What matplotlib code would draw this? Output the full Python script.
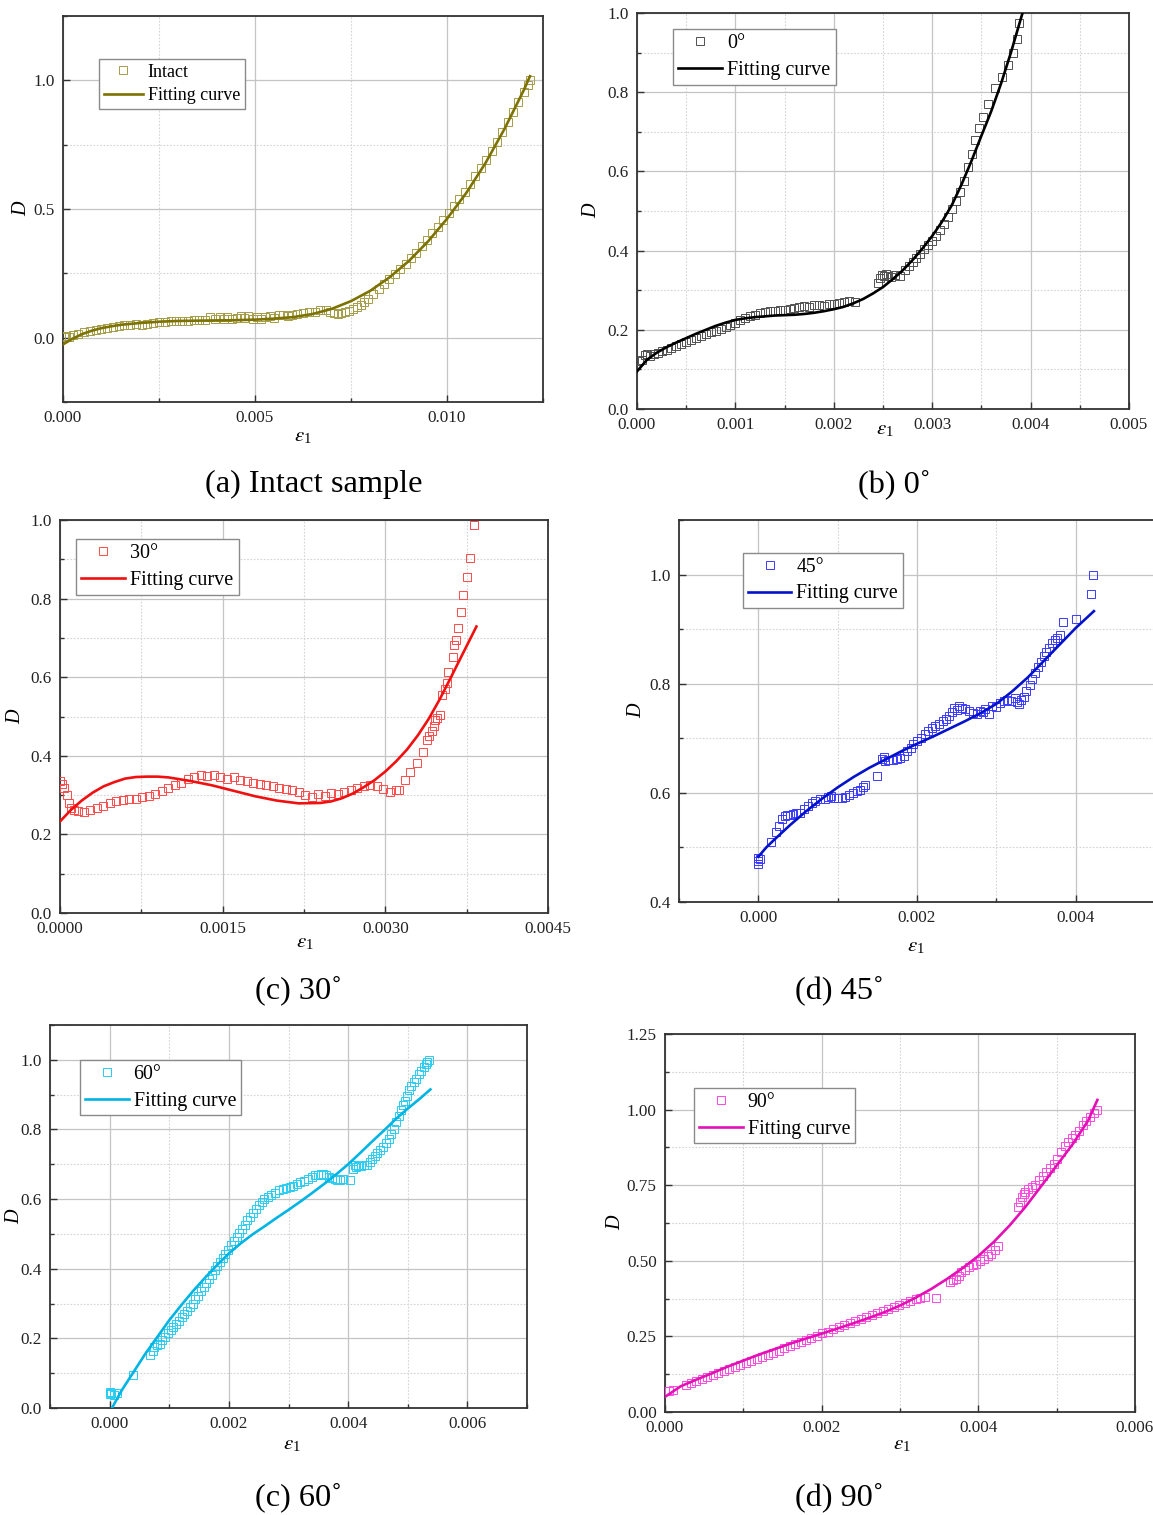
import matplotlib.pyplot as plt
import numpy as np
from matplotlib.ticker import FormatStrFormatter, MultipleLocator

# strain values are listed in units of 1e-3, damage D is dimensionless

INTACT_STRAIN = [0.02, 0.08, 0.15, 0.25, 0.40, 0.55, 0.70, 0.85, 1.00, 1.15, 1.30, 1.45,
                 1.60, 1.75, 1.90, 2.05, 2.20, 2.35, 2.50, 2.65, 2.80, 2.95, 3.10, 3.25,
                 3.40, 3.55, 3.70, 3.82, 3.95, 4.08, 4.18, 4.28, 4.40, 4.52, 4.63, 4.72,
                 4.83, 4.95, 5.05, 5.15, 5.27, 5.38, 5.50, 5.62, 5.73, 5.85, 5.97, 6.10,
                 6.25, 6.40, 6.55, 6.70, 6.85, 6.95, 7.05, 7.15, 7.25, 7.35, 7.45, 7.55,
                 7.65, 7.75, 7.85, 7.95, 8.08, 8.22, 8.36, 8.50, 8.64, 8.78, 8.92, 9.06,
                 9.20, 9.34, 9.48, 9.62, 9.76, 9.90, 10.04, 10.18, 10.32, 10.46, 10.60,
                 10.74, 10.88, 11.02, 11.16, 11.30, 11.44, 11.58, 11.72, 11.86, 12.00,
                 12.10, 12.17]
INTACT_DAMAGE = [0.004, 0.008, 0.002, 0.010, 0.016, 0.022, 0.026, 0.031, 0.035, 0.038,
                 0.041, 0.046, 0.048, 0.050, 0.053, 0.050, 0.055, 0.058, 0.060, 0.059,
                 0.063, 0.064, 0.065, 0.066, 0.068, 0.067, 0.069, 0.082, 0.071, 0.079,
                 0.074, 0.081, 0.072, 0.078, 0.084, 0.076, 0.086, 0.074, 0.080, 0.071,
                 0.082, 0.085, 0.076, 0.088, 0.090, 0.084, 0.089, 0.091, 0.094, 0.098,
                 0.101, 0.106, 0.108, 0.098, 0.094, 0.093, 0.096, 0.099, 0.103, 0.110,
                 0.118, 0.128, 0.139, 0.150, 0.170, 0.190, 0.210, 0.228, 0.248, 0.268,
                 0.288, 0.310, 0.330, 0.355, 0.380, 0.405, 0.430, 0.458, 0.485, 0.512,
                 0.540, 0.568, 0.598, 0.630, 0.660, 0.692, 0.726, 0.762, 0.800, 0.838,
                 0.876, 0.916, 0.955, 0.980, 1.000]
INTACT_FIT_STRAIN = [0.0, 0.25, 0.5, 0.75, 1.0, 1.25, 1.5, 2.0, 2.5, 3.0, 3.5, 4.0, 4.5,
                     5.0, 5.5, 6.0, 6.5, 7.0, 7.5, 8.0, 8.5, 9.0, 9.5, 10.0, 10.5, 11.0,
                     11.5, 12.0, 12.16]
INTACT_FIT_DAMAGE = [-0.026, -0.004, 0.014, 0.027, 0.037, 0.044, 0.050, 0.057, 0.062,
                     0.065, 0.066, 0.067, 0.068, 0.070, 0.074, 0.080, 0.092, 0.112, 0.142,
                     0.182, 0.234, 0.297, 0.373, 0.462, 0.562, 0.678, 0.812, 0.962, 1.016]

DEG0_STRAIN = [0.02, 0.05, 0.08, 0.10, 0.13, 0.17, 0.21, 0.25, 0.30, 0.35, 0.40, 0.45,
               0.50, 0.55, 0.60, 0.65, 0.70, 0.75, 0.80, 0.85, 0.90, 0.95, 1.00, 1.05,
               1.10, 1.15, 1.20, 1.25, 1.30, 1.35, 1.40, 1.45, 1.50, 1.55, 1.60, 1.65,
               1.70, 1.75, 1.80, 1.85, 1.90, 1.95, 2.00, 2.05, 2.10, 2.15, 2.22, 2.45,
               2.47, 2.49, 2.51, 2.53, 2.55, 2.58, 2.62, 2.67, 2.72, 2.76, 2.80, 2.84,
               2.88, 2.92, 2.96, 3.00, 3.04, 3.08, 3.12, 3.16, 3.20, 3.24, 3.28, 3.32,
               3.36, 3.40, 3.44, 3.48, 3.52, 3.57, 3.64, 3.71, 3.77, 3.82, 3.86, 3.88]
DEG0_DAMAGE = [0.120, 0.125, 0.136, 0.138, 0.135, 0.138, 0.142, 0.146, 0.150, 0.155,
               0.160, 0.165, 0.170, 0.174, 0.180, 0.185, 0.190, 0.194, 0.198, 0.203,
               0.208, 0.212, 0.218, 0.224, 0.230, 0.235, 0.238, 0.242, 0.245, 0.247,
               0.248, 0.250, 0.251, 0.253, 0.255, 0.258, 0.260, 0.258, 0.262, 0.263,
               0.261, 0.265, 0.266, 0.268, 0.270, 0.272, 0.270, 0.318, 0.330, 0.338,
               0.336, 0.340, 0.337, 0.333, 0.338, 0.336, 0.352, 0.362, 0.372, 0.382,
               0.392, 0.403, 0.415, 0.425, 0.438, 0.452, 0.467, 0.485, 0.505, 0.525,
               0.548, 0.575, 0.610, 0.645, 0.680, 0.710, 0.737, 0.770, 0.810, 0.838,
               0.868, 0.900, 0.935, 0.975]
DEG0_FIT_STRAIN = [0.0, 0.1, 0.2, 0.3, 0.4, 0.5, 0.6, 0.7, 0.8, 0.9, 1.0, 1.1, 1.2, 1.3,
                   1.4, 1.5, 1.6, 1.7, 1.8, 1.9, 2.0, 2.1, 2.2, 2.3, 2.4, 2.5, 2.6, 2.7,
                   2.8, 2.9, 3.0, 3.1, 3.2, 3.3, 3.4, 3.5, 3.6, 3.7, 3.8, 3.9, 3.93]
DEG0_FIT_DAMAGE = [0.095, 0.124, 0.142, 0.156, 0.168, 0.179, 0.190, 0.200, 0.210, 0.218,
                   0.225, 0.229, 0.232, 0.234, 0.236, 0.237, 0.238, 0.240, 0.243, 0.247,
                   0.252, 0.258, 0.267, 0.278, 0.292, 0.308, 0.328, 0.350, 0.376, 0.405,
                   0.437, 0.473, 0.515, 0.568, 0.627, 0.690, 0.752, 0.822, 0.900, 0.985,
                   1.010]

DEG30_STRAIN = [0.00, 0.02, 0.04, 0.06, 0.08, 0.10, 0.13, 0.17, 0.22, 0.28, 0.34, 0.40,
                0.46, 0.52, 0.58, 0.64, 0.70, 0.76, 0.82, 0.88, 0.94, 1.00, 1.06, 1.12,
                1.18, 1.24, 1.30, 1.36, 1.42, 1.48, 1.54, 1.60, 1.66, 1.72, 1.78, 1.84,
                1.90, 1.96, 2.02, 2.08, 2.14, 2.20, 2.26, 2.32, 2.38, 2.44, 2.50, 2.56,
                2.62, 2.68, 2.74, 2.80, 2.86, 2.92, 2.98, 3.04, 3.10, 3.13, 3.18, 3.23,
                3.29, 3.35, 3.38, 3.40, 3.43, 3.45, 3.46, 3.48, 3.50, 3.52, 3.55, 3.57,
                3.58, 3.62, 3.63, 3.65, 3.67, 3.70, 3.72, 3.75, 3.78, 3.82]
DEG30_DAMAGE = [0.336, 0.328, 0.318, 0.300, 0.280, 0.268, 0.262, 0.260, 0.258, 0.262,
                0.266, 0.272, 0.280, 0.284, 0.288, 0.290, 0.290, 0.294, 0.298, 0.302,
                0.310, 0.318, 0.326, 0.332, 0.340, 0.346, 0.352, 0.348, 0.350, 0.345,
                0.342, 0.345, 0.338, 0.336, 0.332, 0.328, 0.326, 0.322, 0.318, 0.316,
                0.312, 0.308, 0.300, 0.296, 0.302, 0.298, 0.306, 0.302, 0.308, 0.312,
                0.318, 0.322, 0.326, 0.324, 0.316, 0.309, 0.312, 0.313, 0.339, 0.360,
                0.381, 0.410, 0.440, 0.450, 0.462, 0.475, 0.490, 0.496, 0.505, 0.555,
                0.570, 0.585, 0.614, 0.652, 0.682, 0.695, 0.725, 0.765, 0.808, 0.856,
                0.904, 0.987]
DEG30_FIT_STRAIN = [0.0, 0.1, 0.2, 0.3, 0.4, 0.5, 0.6, 0.7, 0.8, 0.9, 1.0, 1.2, 1.4, 1.6,
                    1.8, 2.0, 2.2, 2.4, 2.5, 2.6, 2.7, 2.8, 2.9, 3.0, 3.1, 3.2, 3.3, 3.4,
                    3.5, 3.6, 3.7, 3.8, 3.84]
DEG30_FIT_DAMAGE = [0.233, 0.262, 0.286, 0.306, 0.322, 0.333, 0.342, 0.346, 0.347, 0.347,
                    0.345, 0.336, 0.325, 0.311, 0.297, 0.286, 0.279, 0.280, 0.284, 0.292,
                    0.304, 0.320, 0.338, 0.360, 0.386, 0.416, 0.452, 0.494, 0.543, 0.597,
                    0.652, 0.707, 0.729]

DEG45_STRAIN = [0.00, 0.00, 0.00, 0.02, 0.16, 0.22, 0.26, 0.30, 0.33, 0.36, 0.40, 0.44,
                0.48, 0.53, 0.58, 0.63, 0.68, 0.72, 0.78, 0.84, 0.88, 0.91, 0.96, 1.00,
                1.05, 1.09, 1.14, 1.19, 1.24, 1.28, 1.32, 1.35, 1.49, 1.56, 1.58, 1.60,
                1.64, 1.70, 1.75, 1.79, 1.84, 1.88, 1.92, 1.95, 2.00, 2.05, 2.10, 2.14,
                2.19, 2.23, 2.28, 2.33, 2.37, 2.40, 2.44, 2.47, 2.50, 2.53, 2.57, 2.60,
                2.65, 2.70, 2.75, 2.79, 2.83, 2.86, 2.91, 2.95, 3.00, 3.05, 3.10, 3.14,
                3.18, 3.23, 3.26, 3.28, 3.31, 3.35, 3.38, 3.42, 3.45, 3.49, 3.52, 3.56,
                3.60, 3.63, 3.67, 3.70, 3.74, 3.77, 3.80, 3.84, 4.00, 4.19, 4.22]
DEG45_DAMAGE = [0.470, 0.475, 0.480, 0.478, 0.510, 0.528, 0.540, 0.552, 0.557, 0.560,
                0.560, 0.561, 0.563, 0.564, 0.570, 0.576, 0.581, 0.585, 0.588, 0.588,
                0.592, 0.594, 0.590, 0.591, 0.590, 0.592, 0.596, 0.600, 0.604, 0.606,
                0.610, 0.615, 0.630, 0.662, 0.666, 0.658, 0.660, 0.661, 0.662, 0.664,
                0.668, 0.676, 0.682, 0.689, 0.695, 0.701, 0.707, 0.713, 0.718, 0.722,
                0.726, 0.731, 0.736, 0.740, 0.748, 0.756, 0.752, 0.759, 0.755, 0.753,
                0.750, 0.747, 0.745, 0.750, 0.748, 0.753, 0.745, 0.759, 0.757, 0.765,
                0.768, 0.771, 0.768, 0.773, 0.766, 0.762, 0.770, 0.776, 0.786, 0.798,
                0.808, 0.819, 0.830, 0.840, 0.850, 0.859, 0.866, 0.874, 0.880, 0.883,
                0.890, 0.914, 0.918, 0.965, 1.000]
DEG45_FIT_STRAIN = [0.0, 0.1, 0.2, 0.4, 0.6, 0.8, 1.0, 1.2, 1.4, 1.6, 1.8, 2.0, 2.2, 2.4,
                    2.6, 2.8, 3.0, 3.2, 3.4, 3.6, 3.8, 4.0, 4.23]
DEG45_FIT_DAMAGE = [0.483, 0.500, 0.514, 0.541, 0.566, 0.589, 0.610, 0.629, 0.646, 0.661,
                    0.676, 0.690, 0.703, 0.717, 0.731, 0.746, 0.763, 0.786, 0.812, 0.842,
                    0.872, 0.902, 0.933]

DEG60_STRAIN = [0.00, 0.00, 0.02, 0.07, 0.12, 0.39, 0.68, 0.72, 0.75, 0.80, 0.84, 0.88,
                0.93, 0.98, 1.03, 1.07, 1.12, 1.16, 1.21, 1.25, 1.30, 1.35, 1.39, 1.44,
                1.49, 1.53, 1.58, 1.62, 1.67, 1.71, 1.76, 1.80, 1.85, 1.90, 1.94, 1.99,
                2.04, 2.08, 2.13, 2.17, 2.22, 2.27, 2.31, 2.36, 2.41, 2.45, 2.50, 2.55,
                2.59, 2.65, 2.71, 2.78, 2.84, 2.90, 2.96, 3.02, 3.08, 3.14, 3.20, 3.26,
                3.33, 3.39, 3.45, 3.50, 3.54, 3.58, 3.63, 3.68, 3.73, 3.78, 3.82, 3.87,
                3.91, 4.03, 4.08, 4.11, 4.13, 4.17, 4.22, 4.27, 4.31, 4.36, 4.40, 4.45,
                4.49, 4.54, 4.58, 4.63, 4.68, 4.72, 4.77, 4.81, 4.86, 4.89, 4.92, 4.95,
                4.98, 5.02, 5.05, 5.10, 5.14, 5.19, 5.23, 5.27, 5.30, 5.33, 5.36]
DEG60_DAMAGE = [0.046, 0.040, 0.042, 0.036, 0.044, 0.096, 0.151, 0.165, 0.175, 0.180,
                0.185, 0.195, 0.204, 0.214, 0.223, 0.232, 0.242, 0.250, 0.261, 0.270,
                0.280, 0.290, 0.300, 0.312, 0.323, 0.335, 0.347, 0.359, 0.371, 0.383,
                0.395, 0.407, 0.419, 0.431, 0.443, 0.455, 0.467, 0.479, 0.491, 0.503,
                0.515, 0.527, 0.539, 0.550, 0.561, 0.572, 0.582, 0.591, 0.600, 0.606,
                0.611, 0.618, 0.625, 0.628, 0.632, 0.635, 0.639, 0.644, 0.649, 0.653,
                0.658, 0.663, 0.668, 0.670, 0.673, 0.671, 0.668, 0.664, 0.661, 0.658,
                0.656, 0.654, 0.658, 0.656, 0.687, 0.699, 0.692, 0.695, 0.695, 0.698,
                0.699, 0.706, 0.716, 0.725, 0.733, 0.742, 0.749, 0.760, 0.773, 0.787,
                0.802, 0.820, 0.840, 0.855, 0.869, 0.883, 0.897, 0.912, 0.926, 0.936,
                0.945, 0.958, 0.969, 0.978, 0.989, 0.993, 1.000]
DEG60_FIT_STRAIN = [0.04, 0.2, 0.4, 0.6, 0.8, 1.0, 1.2, 1.4, 1.6, 1.8, 2.0, 2.2, 2.4, 2.6,
                    2.8, 3.0, 3.2, 3.4, 3.6, 3.8, 4.0, 4.2, 4.4, 4.6, 4.8, 5.0, 5.2, 5.38]
DEG60_FIT_DAMAGE = [0.000, 0.050, 0.103, 0.156, 0.204, 0.252, 0.295, 0.336, 0.374, 0.410,
                    0.444, 0.473, 0.499, 0.522, 0.546, 0.569, 0.593, 0.618, 0.644, 0.671,
                    0.700, 0.732, 0.765, 0.797, 0.830, 0.860, 0.888, 0.915]

DEG90_STRAIN = [0.00, 0.05, 0.10, 0.27, 0.33, 0.40, 0.47, 0.54, 0.61, 0.68, 0.75, 0.82,
                0.89, 0.96, 1.03, 1.10, 1.17, 1.24, 1.31, 1.38, 1.45, 1.52, 1.59, 1.66,
                1.73, 1.80, 1.87, 1.94, 2.01, 2.08, 2.15, 2.22, 2.29, 2.36, 2.43, 2.50,
                2.57, 2.64, 2.71, 2.78, 2.85, 2.92, 2.99, 3.06, 3.13, 3.20, 3.26, 3.32,
                3.46, 3.64, 3.68, 3.71, 3.75, 3.78, 3.83, 3.88, 3.93, 3.97, 4.02, 4.07,
                4.12, 4.16, 4.21, 4.25, 4.51, 4.53, 4.56, 4.58, 4.60, 4.64, 4.68, 4.72,
                4.77, 4.82, 4.86, 4.91, 4.96, 5.00, 5.05, 5.10, 5.14, 5.19, 5.24, 5.28,
                5.33, 5.38, 5.43, 5.48, 5.51]
DEG90_DAMAGE = [0.068, 0.068, 0.072, 0.088, 0.095, 0.103, 0.108, 0.115, 0.122, 0.130,
                0.136, 0.142, 0.148, 0.155, 0.162, 0.168, 0.175, 0.182, 0.190, 0.196,
                0.203, 0.210, 0.218, 0.224, 0.232, 0.238, 0.246, 0.252, 0.260, 0.266,
                0.274, 0.280, 0.288, 0.295, 0.301, 0.308, 0.314, 0.321, 0.327, 0.334,
                0.340, 0.346, 0.354, 0.360, 0.368, 0.375, 0.378, 0.380, 0.376, 0.430,
                0.436, 0.441, 0.450, 0.463, 0.470, 0.480, 0.487, 0.490, 0.498, 0.507,
                0.515, 0.524, 0.535, 0.548, 0.678, 0.695, 0.711, 0.720, 0.728, 0.736,
                0.744, 0.752, 0.766, 0.780, 0.794, 0.808, 0.821, 0.835, 0.860, 0.878,
                0.893, 0.905, 0.915, 0.930, 0.948, 0.962, 0.976, 0.988, 1.000]
DEG90_FIT_STRAIN = [0.0, 0.2, 0.4, 0.6, 0.8, 1.0, 1.2, 1.4, 1.6, 1.8, 2.0, 2.2, 2.4, 2.6,
                    2.8, 3.0, 3.2, 3.4, 3.6, 3.8, 4.0, 4.2, 4.4, 4.6, 4.8, 5.0, 5.2, 5.4,
                    5.52]
DEG90_FIT_DAMAGE = [0.050, 0.085, 0.107, 0.128, 0.150, 0.170, 0.190, 0.208, 0.226, 0.243,
                    0.259, 0.276, 0.293, 0.311, 0.330, 0.352, 0.378, 0.407, 0.440, 0.476,
                    0.516, 0.563, 0.617, 0.678, 0.746, 0.815, 0.884, 0.963, 1.032]

W, H = 1153, 1515

plt.rcParams["font.family"] = ["Liberation Serif", "DejaVu Serif"]
plt.rcParams["mathtext.fontset"] = "stix"

fig = plt.figure(figsize=(W / 100, H / 100), dpi=100)


def px_rect(x0, y0, x1, y1):
    """Axes rectangle from pixel corners (origin top-left)."""
    return [x0 / W, 1 - y1 / H, (x1 - x0) / W, (y1 - y0) / H]


def fpos(x, y):
    return x / W, 1 - y / H


def draw_panel(rect, strain, damage, fit_strain, fit_damage, name, line_color,
               marker_color, xlim, ylim, xstep, ystep, xfmt, yfmt, legend_xy,
               legend_size, xlabel_xy, ylabel_x, caption, caption_xy):
    ax = fig.add_axes(px_rect(*rect))
    ax.plot(np.array(strain) * 1e-3, damage, ls="none", marker="s", ms=5.3, mfc="none",
            mec=marker_color, mew=0.7, label=name, zorder=3)
    ax.plot(np.array(fit_strain) * 1e-3, fit_damage, color=line_color, lw=1.9,
            label="Fitting curve", zorder=4)

    ax.set_xlim(*xlim)
    ax.set_ylim(*ylim)
    ax.xaxis.set_major_locator(MultipleLocator(xstep))
    ax.xaxis.set_minor_locator(MultipleLocator(xstep / 2))
    ax.yaxis.set_major_locator(MultipleLocator(ystep))
    ax.yaxis.set_minor_locator(MultipleLocator(ystep / 2))
    ax.xaxis.set_major_formatter(FormatStrFormatter(xfmt))
    ax.yaxis.set_major_formatter(FormatStrFormatter(yfmt))

    ax.grid(which="major", color="#c4c4c4", lw=0.9, zorder=0)
    ax.grid(which="minor", color="#d4d4d4", lw=0.8, ls=(0, (1.5, 1.5)), zorder=0)
    ax.set_axisbelow(True)

    ax.tick_params(which="both", direction="in", top=False, right=False,
                   colors="#333333", labelcolor="#222222", width=1.0)
    ax.tick_params(which="major", length=5, labelsize=12.3, pad=6)
    ax.tick_params(which="minor", length=3)
    for spine in ax.spines.values():
        spine.set_color("#333333")
        spine.set_linewidth(1.3)

    ax.set_xlabel(r"$\varepsilon_\mathregular{1}$", fontsize=15, va="center")
    ax.xaxis.set_label_coords(*fpos(*xlabel_xy), transform=fig.transFigure)
    ax.set_ylabel("D", fontsize=14.5, style="italic", va="center", ha="center")
    ax.yaxis.set_label_coords(*fpos(ylabel_x, (rect[1] + rect[3]) / 2),
                              transform=fig.transFigure)

    leg = ax.legend(loc="upper left", bbox_to_anchor=fpos(*legend_xy),
                    bbox_transform=fig.transFigure, numpoints=1, fancybox=False,
                    framealpha=1, edgecolor="#8a8a8a", borderaxespad=0,
                    borderpad=0.25, handlelength=2.2, handletextpad=0.25,
                    labelspacing=0.38, prop={"size": legend_size})
    leg.get_frame().set_linewidth(1.0)

    fig.text(*fpos(*caption_xy), caption, fontsize=23.3, ha="center", va="baseline")
    return ax


draw_panel((63, 16, 543, 402), INTACT_STRAIN, INTACT_DAMAGE, INTACT_FIT_STRAIN,
           INTACT_FIT_DAMAGE, "Intact", "#7d7200", "#a59c48", (0, 0.0125),
           (-0.25, 1.25), 0.005, 0.5, "%.3f", "%.1f", (99, 59), 13,
           (303, 437), 22, "(a) Intact sample", (314, 492))

draw_panel((637, 13, 1129, 409), DEG0_STRAIN, DEG0_DAMAGE, DEG0_FIT_STRAIN,
           DEG0_FIT_DAMAGE, "0°", "#000000", "#505050", (0, 0.005), (0, 1.0),
           0.001, 0.2, "%.3f", "%.1f", (673, 29), 14.5,
           (885, 430), 592, "(b) 0˚", (894, 492))

draw_panel((60, 520, 548, 913), DEG30_STRAIN, DEG30_DAMAGE, DEG30_FIT_STRAIN,
           DEG30_FIT_DAMAGE, "30°", "#f01010", "#ff4a4a", (0, 0.0045), (0, 1.0),
           0.0015, 0.2, "%.4f", "%.1f", (76, 539), 14.5,
           (305, 943), 16, "(c) 30˚", (299, 998))

draw_panel((679, 520, 1155, 902), DEG45_STRAIN, DEG45_DAMAGE, DEG45_FIT_STRAIN,
           DEG45_FIT_DAMAGE, "45°", "#0512cc", "#3a3aff", (-0.001, 0.005),
           (0.4, 1.1), 0.002, 0.2, "%.3f", "%.1f", (743, 553), 14.2,
           (916, 947), 637, "(d) 45˚", (839, 998))

draw_panel((50, 1025, 527, 1408), DEG60_STRAIN, DEG60_DAMAGE, DEG60_FIT_STRAIN,
           DEG60_FIT_DAMAGE, "60°", "#00b4e4", "#28cdf4", (-0.001, 0.007),
           (0, 1.1), 0.002, 0.2, "%.3f", "%.1f", (80, 1060), 14.3,
           (292, 1445), 15, "(c) 60˚", (299, 1505))

draw_panel((665, 1034, 1135, 1412), DEG90_STRAIN, DEG90_DAMAGE, DEG90_FIT_STRAIN,
           DEG90_FIT_DAMAGE, "90°", "#e410b6", "#ff48e4", (0, 0.006), (0, 1.25),
           0.002, 0.25, "%.3f", "%.2f", (694, 1088), 14.3,
           (902, 1445), 616, "(d) 90˚", (839, 1505))

fig.savefig("out.png", dpi=100)
